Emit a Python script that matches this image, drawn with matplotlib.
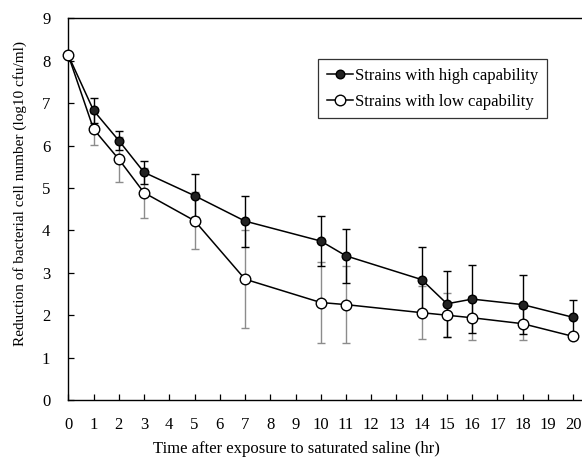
import numpy as np
import matplotlib
matplotlib.use("Agg")
import matplotlib.pyplot as plt

plt.rcParams['font.family'] = ['Liberation Serif', 'DejaVu Serif']

hours = [0, 1, 2, 3, 5, 7, 10, 11, 14, 15, 16, 18, 20]
high = [8.13, 6.83, 6.12, 5.37, 4.82, 4.22, 3.75, 3.40, 2.84, 2.27, 2.38, 2.25, 1.95]
high_err = [0, 0.29, 0.23, 0.27, 0.51, 0.60, 0.58, 0.63, 0.77, 0.78, 0.80, 0.69, 0.40]
low = [8.13, 6.39, 5.68, 4.89, 4.23, 2.85, 2.30, 2.25, 2.06, 2.00, 1.94, 1.80, 1.50]
low_err = [0, 0.38, 0.53, 0.59, 0.67, 1.16, 0.95, 0.90, 0.63, 0.52, 0.52, 0.38, 0.0]

fig = plt.figure(figsize=(5.82, 4.62), dpi=100)
ax = fig.add_axes([0.1174, 0.1342, 0.8826, 0.8258])

# error bars underneath the lines
ax.errorbar(hours, low, yerr=low_err, fmt='none', ecolor='#8c8c8c',
            elinewidth=1.0, capsize=3, capthick=1.0, zorder=1)
ax.errorbar(hours, high, yerr=high_err, fmt='none', ecolor='black',
            elinewidth=1.0, capsize=3, capthick=1.0, zorder=2)

ax.plot(hours, high, '-o', color='black', lw=1.1, ms=6.2,
        mfc='#222222', mec='black', mew=1.0, zorder=3, clip_on=False,
        label='Strains with high capability')
ax.plot(hours, low, '-o', color='black', lw=1.1, ms=7.6,
        mfc='white', mec='black', mew=1.0, zorder=4, clip_on=False,
        label='Strains with low capability')

ax.set_xlim(0, 20.35)
ax.set_ylim(0, 9)
ax.set_xticks(range(0, 21))
ax.set_yticks(range(0, 10))
ax.tick_params(direction='in', length=4, width=0.9, labelsize=12)
ax.tick_params(axis='x', pad=12)
ax.tick_params(axis='y', pad=13)
ax.spines['right'].set_visible(False)
for s in ['left', 'bottom', 'top']:
    ax.spines[s].set_linewidth(1.0)

ax.set_xlabel('Time after exposure to saturated saline (hr)', fontsize=12, va='center')
ax.set_ylabel('Reduction of bacterial cell number (log10 cfu/ml)', fontsize=11, va='center')
ax.xaxis.set_label_coords(0.444, -0.128)
ax.yaxis.set_label_coords(-0.094, 0.541)

leg = ax.legend(loc='upper left', bbox_to_anchor=(0.487, 0.893), fontsize=12,
                frameon=True, fancybox=False, edgecolor='black',
                handlelength=1.6, handletextpad=0.1, borderpad=0.5,
                labelspacing=0.6, borderaxespad=0)
leg.get_frame().set_linewidth(0.9)

fig.savefig('out.png', dpi=100)
